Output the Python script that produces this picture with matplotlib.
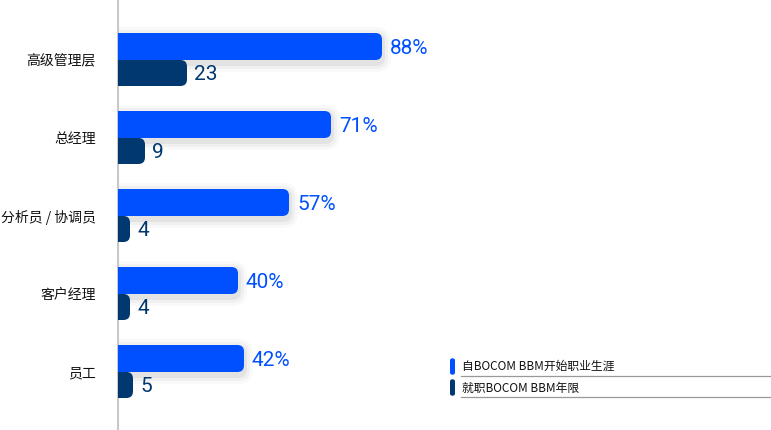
import numpy as np
import matplotlib.pyplot as plt
from matplotlib.patches import FancyBboxPatch
from matplotlib.lines import Line2D

plt.rcParams['font.family'] = ['Noto Sans CJK SC', 'DejaVu Sans']

# data
CATEGORIES = ['高级管理层', '总经理', '分析员 / 协调员', '客户经理', '员工']
CAREER_START = [88, 71, 57, 40, 42]   # % who started their career at BOCOM BBM
TENURE = [23, 9, 4, 4, 5]             # years at BOCOM BBM
LEGEND_LABELS = ['自BOCOM BBM开始职业生涯', '就职BOCOM BBM年限']

BLUE = '#0050ff'
NAVY = '#00386f'

W, H = 771, 430
AX_LEFT = 118
PX_PER_UNIT = 3.0
CAT_STEP = 78.0
FIRST_CENTER = 60.0


def rounded_bar(ax, y0, h, value, color, aspect, zorder=3):
    r = 2.2
    box = FancyBboxPatch((-r * 2, y0), value + r * 2, h,
                         boxstyle='round,pad=0,rounding_size=%f' % r,
                         mutation_aspect=aspect, facecolor=color,
                         edgecolor='none', zorder=zorder)
    ax.add_patch(box)
    return box


def main():
    fig = plt.figure(figsize=(W / 100, H / 100), dpi=100)
    ax = fig.add_axes([AX_LEFT / W, 0, 1 - AX_LEFT / W, 1])

    xmax = (W - AX_LEFT) / PX_PER_UNIT
    ax.set_xlim(0, xmax)
    ymin = -FIRST_CENTER / CAT_STEP
    ymax = (H - FIRST_CENTER) / CAT_STEP
    ax.set_ylim(ymax, ymin)

    # units of y per unit of x (for round corners)
    aspect = (1 / CAT_STEP) / (1 / PX_PER_UNIT)

    blue_h = 27 / CAT_STEP
    navy_h = 26 / CAT_STEP
    nudge = 2 / CAT_STEP
    for i, (a, b) in enumerate(zip(CAREER_START, TENURE)):
        # soft shadow behind the blue bar
        for k, alpha in zip([9, 6, 3], [0.025, 0.035, 0.05]):
            dy = k / CAT_STEP
            sh = FancyBboxPatch((-10, i - blue_h - dy + 3 / CAT_STEP), a + 10 + k / PX_PER_UNIT,
                                blue_h + 2 * dy,
                                boxstyle='round,pad=0,rounding_size=%f' % (k / PX_PER_UNIT + 2),
                                mutation_aspect=aspect, facecolor='black',
                                edgecolor='none', alpha=alpha, zorder=1)
            ax.add_patch(sh)
        rounded_bar(ax, i - blue_h, blue_h, a, BLUE, aspect, zorder=3)
        rounded_bar(ax, i, navy_h, b, NAVY, aspect, zorder=4)
        ax.text(a + 8 / PX_PER_UNIT, i - blue_h / 2 + nudge, '%d%%' % a, color=BLUE,
                fontsize=15, family=['Roboto', 'DejaVu Sans'],
                va='center', ha='left')
        ax.text(b + 7 / PX_PER_UNIT, i + navy_h / 2 + nudge, '%d' % b, color=NAVY,
                fontsize=15, family=['Roboto', 'DejaVu Sans'],
                va='center', ha='left')

    ax.set_yticks(range(len(CATEGORIES)))
    ax.set_yticklabels(CATEGORIES, fontsize=10, color='#111111', fontweight='medium')
    ax.tick_params(axis='y', length=0, pad=16)
    ax.set_xticks([])
    for s in ['top', 'right', 'bottom']:
        ax.spines[s].set_visible(False)
    ax.spines['left'].set_color('#c8c8c8')
    ax.spines['left'].set_linewidth(1.5)
    ax.patch.set_alpha(0)

    # legend (drawn in figure coordinates)
    entries = [(BLUE, 358, 375, 366, 376), (NAVY, 379, 396, 388, 397)]
    for (col, top, bot, ty, ly), label in zip(entries, LEGEND_LABELS):
        fig.patches.append(FancyBboxPatch((450 / W, 1 - bot / H), 5 / W, (bot - top) / H,
                                          boxstyle='round,pad=0,rounding_size=0.005',
                                          mutation_aspect=W / H * 0.6,
                                          transform=fig.transFigure,
                                          facecolor=col, edgecolor='none'))
        fig.text(462 / W, 1 - ty / H, label, fontsize=8.5, color='#111111',
                 fontweight='medium', va='center', ha='left')
        fig.add_artist(Line2D([461 / W, 1], [1 - ly / H, 1 - ly / H],
                              transform=fig.transFigure, color='#999999', lw=0.9))

    fig.savefig('out.png', dpi=100)


if __name__ == '__main__':
    main()
